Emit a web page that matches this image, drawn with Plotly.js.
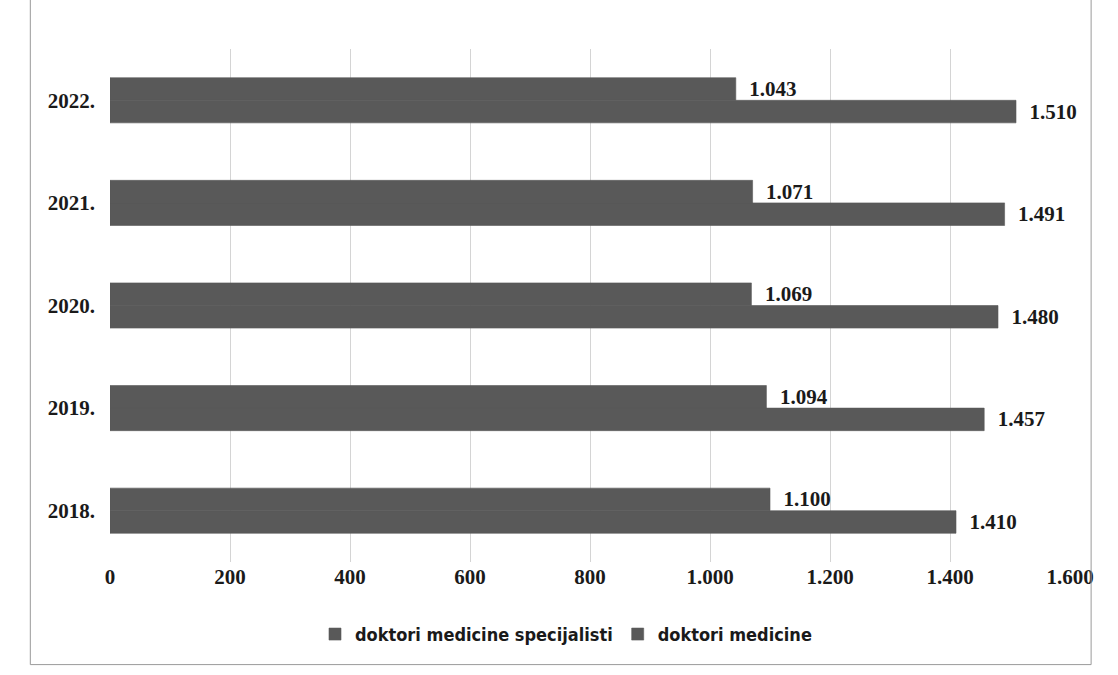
<!DOCTYPE html>
<html>
<head>
<meta charset="utf-8">
<script src="https://cdn.plot.ly/plotly-3.0.1.min.js"></script>
<style>html,body{margin:0;padding:0;background:#fff;}#chart{width:1118px;height:675px;}</style>
</head>
<body>
<div id="chart"></div>
<script>
const years = ['2018.', '2019.', '2020.', '2021.', '2022.'];
const specijalisti = [1410, 1457, 1480, 1491, 1510];
const doktoriMedicine = [1100, 1094, 1069, 1071, 1043];
const seriesNames = ['doktori medicine specijalisti', 'doktori medicine'];
const xTicks = [0, 200, 400, 600, 800, 1000, 1200, 1400, 1600];

const serif = 'Liberation Serif, Times New Roman, serif';
const labelFont = {family: serif, size: 21, color: '#1a1a1a', weight: 'bold'};

const traces = [
  {
    type: 'bar', orientation: 'h', name: seriesNames[0],
    y: years, x: specijalisti,
    marker: {color: '#595959', line: {color: '#595959', width: 0.6}},
    texttemplate: '  %{x:,d}', textposition: 'outside', cliponaxis: false,
    constraintext: 'none',
    textfont: labelFont, hoverinfo: 'x+y'
  },
  {
    type: 'bar', orientation: 'h', name: seriesNames[1],
    y: years, x: doktoriMedicine,
    marker: {color: '#595959', line: {color: '#595959', width: 0.6}},
    texttemplate: '  %{x:,d}', textposition: 'outside', cliponaxis: false,
    constraintext: 'none',
    textfont: labelFont, hoverinfo: 'x+y'
  }
];

const layout = {
  width: 1118, height: 675,
  separators: ',.',
  paper_bgcolor: '#ffffff', plot_bgcolor: '#ffffff',
  margin: {l: 110, r: 48, t: 49, b: 113},
  barmode: 'group', bargap: 0.56, bargroupgap: 0,
  showlegend: true,
  legend: {
    orientation: 'h', x: 0.475, xanchor: 'center', y: -0.105, yanchor: 'top',
    traceorder: 'normal',
    font: {family: 'DejaVu Sans Condensed, DejaVu Sans, sans-serif', size: 18, color: '#1a1a1a', weight: 'bold'},
    itemwidth: 30
  },
  xaxis: {
    range: [0, 1600], tickvals: xTicks, tickformat: ',d',
    showgrid: true, gridcolor: '#d4d4d4', gridwidth: 1,
    zeroline: false, showline: false, ticks: '',
    tickfont: labelFont
  },
  yaxis: {
    type: 'category', categoryorder: 'array', categoryarray: years,
    showgrid: false, zeroline: false, showline: false, ticks: '',
    ticklabelstandoff: 14,
    tickfont: labelFont
  },
  shapes: [
    {type: 'rect', xref: 'paper', yref: 'paper', x0: -0.083, x1: 1.022, y0: -0.2, y1: 1.1,
     line: {color: '#9a9a9a', width: 1}}
  ]
};

Plotly.newPlot('chart', traces, layout, {displayModeBar: false, staticPlot: true});
</script>
</body>
</html>
